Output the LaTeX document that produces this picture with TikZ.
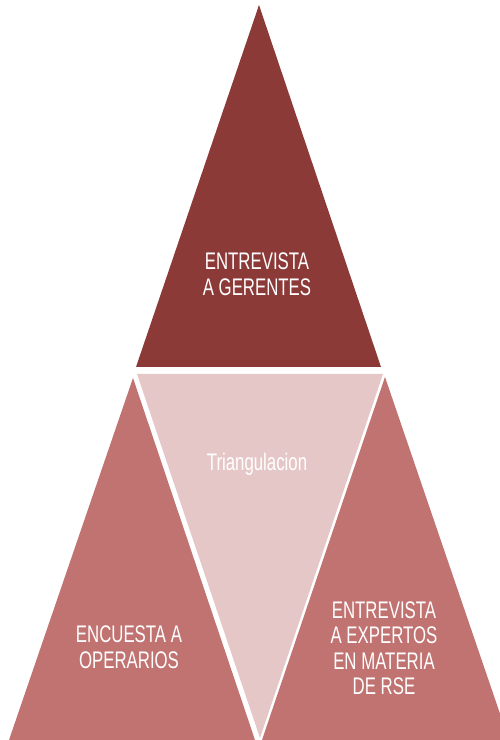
\documentclass[tikz,border=0pt]{standalone}
\usepackage{fontspec}
\setmainfont{Liberation Sans}
\definecolor{topred}{RGB}{140,58,56}
\definecolor{sidered}{RGB}{192,115,113}
\definecolor{midpink}{RGB}{230,199,200}
\begin{document}
\begin{tikzpicture}[x=1pt,y=1pt,
  label/.style={text=white,font=\fontsize{24}{25.5}\selectfont,align=center,
    xscale=0.7,transform shape,inner sep=0pt}]
\useasboundingbox (0,0) rectangle (500,740);
\begin{scope}
\clip (0,0) rectangle (500,740);
% four triangles of the pyramid
\fill[topred] (259,735) -- (136,373) -- (381,373) -- cycle;
\fill[midpink] (137,366) -- (383,366) -- (260,2) -- cycle;
\fill[sidered] (133,362) -- (9,0) -- (255,0) -- cycle;
\fill[sidered] (385,363) -- (262,0) -- (509,0) -- cycle;
\end{scope}
% labels
\node[label] (gerentes) at (257,466) {ENTREVISTA\\A GERENTES};
\node[label,anchor=base] (triang) at (257,269) {Triangulacion};
\node[label] (operarios) at (129,93) {ENCUESTA A\\OPERARIOS};
\node[label] (expertos) at (384,92) {ENTREVISTA\\A EXPERTOS\\EN MATERIA\\DE RSE};
\end{tikzpicture}
\end{document}
